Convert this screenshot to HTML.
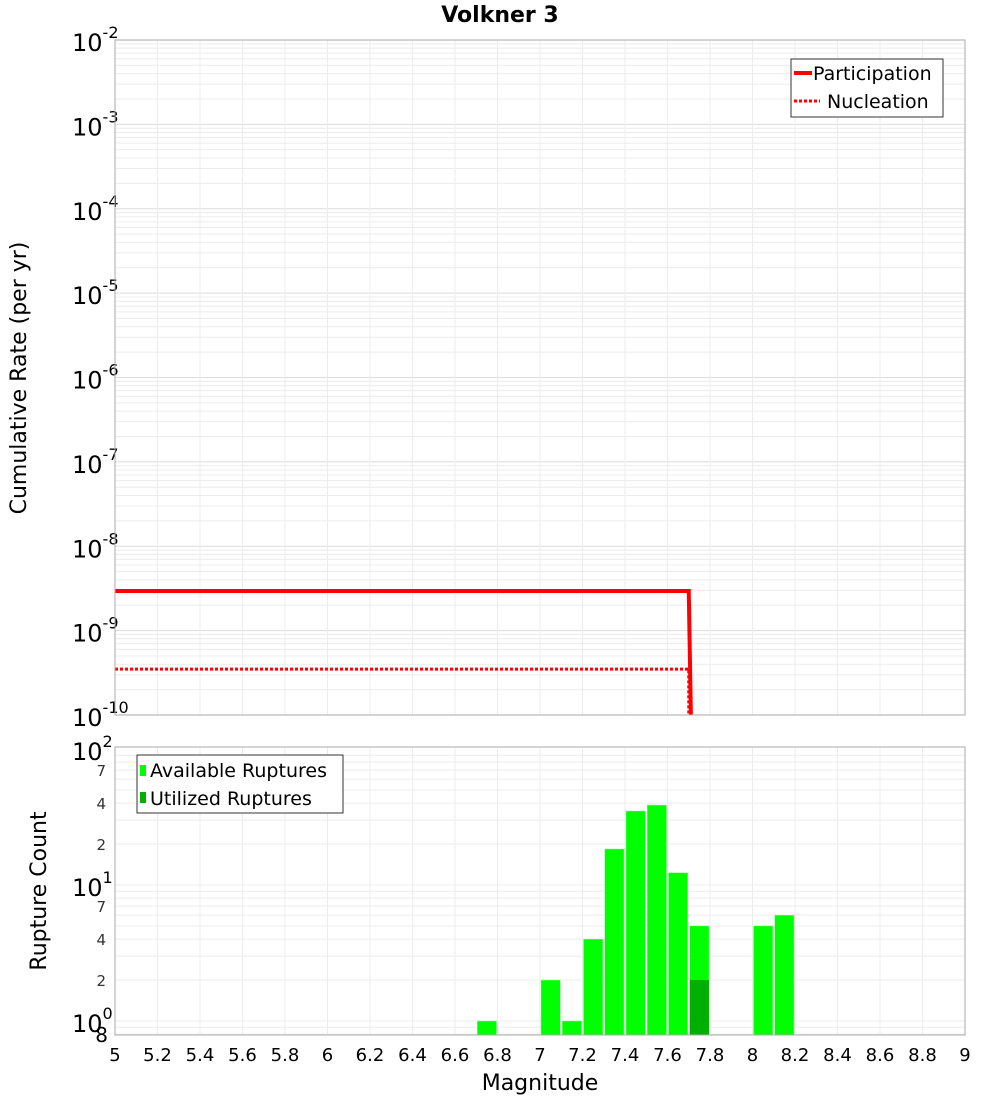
<!DOCTYPE html>
<html><head><meta charset="utf-8"><style>
body{margin:0;background:#fff;font-family:"Liberation Sans","DejaVu Sans",sans-serif}
</style></head><body>
<svg width="1000" height="1100" xmlns="http://www.w3.org/2000/svg" font-family="DejaVu Sans, Liberation Sans, sans-serif">
<text x="500" y="22" text-anchor="middle" font-size="22" font-weight="bold">Volkner 3</text>
<g id="topG"></g>
<g id="botG"></g>
<text transform="translate(26,378) rotate(-90)" text-anchor="middle" font-size="22">Cumulative Rate (per yr)</text>
<text transform="translate(46,891) rotate(-90)" text-anchor="middle" font-size="22">Rupture Count</text>
<text x="540" y="1090" text-anchor="middle" font-size="22">Magnitude</text>
</svg>
<script>
const xTicks=[5,5.2,5.4,5.6,5.8,6,6.2,6.4,6.6,6.8,7,7.2,7.4,7.6,7.8,8,8.2,8.4,8.6,8.8,9];
const rateExps=[-2,-3,-4,-5,-6,-7,-8,-9,-10];
const partMag=[5,7.70,7.71];
const partRate=[2.95e-9,2.95e-9,1e-10];
const nuclMag=[5,7.70,7.70];
const nuclRate=[3.5e-10,3.5e-10,1e-10];
const binMag=[6.75,7.05,7.15,7.25,7.35,7.45,7.55,7.65,7.75,8.05,8.15];
const availCount=[1,2,1,4,18.4,35,38.7,12.3,5,5,6];
const utilMag=[7.75];
const utilCount=[2];
const countMinor=[2,4,7,20,40,70];
const NS="http://www.w3.org/2000/svg";
function mk(p,t,a){const e=document.createElementNS(NS,t);for(const k in a)e.setAttribute(k,a[k]);p.appendChild(e);return e;}
const X0=115,X1=965;
const xs=m=>X0+(m-5)/4*(X1-X0);
const T0=40,T1=715;
const yT=v=>T0+(-2-Math.log10(v))/8*(T1-T0);
const B0=747,B1=1035;
const yB=v=>1021-Math.log10(v)*136;
const topG=document.getElementById('topG'),botG=document.getElementById('botG');
for(let d=-10;d<-2;d++)for(let k=1;k<10;k++){const y=yT(k*Math.pow(10,d));if(y<T0||y>T1)continue;const l=mk(topG,'line',{x1:X0,x2:X1,y1:y,y2:y,stroke:k==1?'#ddd':'#ececec','stroke-width':1});}
for(let d=-1;d<2;d++)for(let k=1;k<10;k++){const y=yB(k*Math.pow(10,d));if(y<B0||y>B1)continue;const l=mk(botG,'line',{x1:X0,x2:X1,y1:y,y2:y,stroke:'#ececec','stroke-width':1});}
xTicks.forEach(m=>{const x=xs(m);
 const a=mk(topG,'line',{x1:x,x2:x,y1:T0,y2:T1,stroke:'#ececec'});
 const b=mk(botG,'line',{x1:x,x2:x,y1:B0,y2:B1,stroke:'#ececec'});
 const t=mk(botG,'text',{x:x,y:1061,'text-anchor':'middle','font-size':18});t.textContent=String(m);});
rateExps.forEach(e=>{const y=yT(Math.pow(10,e));const t=mk(topG,'text',{x:72,y:y+11,'font-size':24});t.textContent='10';const s=mk(t,'tspan',{dy:-13,'font-size':16});s.textContent=String(e);});
function path(ms,vs){return ms.map((m,i)=>(i?'L':'M')+xs(m)+','+yT(vs[i])).join(' ');}
const pl=mk(topG,'path',{d:path(partMag,partRate),fill:'none',stroke:'#f00','stroke-width':4});
const nl=mk(topG,'path',{d:path(nuclMag,nuclRate),fill:'none',stroke:'#f00','stroke-width':3,'stroke-dasharray':'3,2'});
const tf=mk(topG,'rect',{x:X0,y:T0,width:X1-X0,height:T1-T0,fill:'none',stroke:'#aaa'});
const lg=mk(topG,'g',{});
mk(lg,'rect',{x:791,y:59,width:152,height:58,fill:'#fff',stroke:'#333'});
mk(lg,'line',{x1:794,x2:812,y1:73,y2:73,stroke:'#f00','stroke-width':4});
mk(lg,'line',{x1:794,x2:820,y1:101,y2:101,stroke:'#f00','stroke-width':3,'stroke-dasharray':'3,2'});
let t1=mk(lg,'text',{x:813,y:80,'font-size':19});t1.textContent='Participation';
let t2=mk(lg,'text',{x:827,y:108,'font-size':19});t2.textContent='Nucleation';
binMag.forEach((m,i)=>{const r=mk(botG,'rect',{x:xs(m-0.05)+1,y:yB(availCount[i]),width:xs(m+0.05)-xs(m-0.05)-2,height:B1-yB(availCount[i]),fill:'#00ff00',stroke:'#8f8','stroke-width':0.5});});
utilMag.forEach((m,i)=>{const r=mk(botG,'rect',{x:xs(m-0.05)+1,y:yB(utilCount[i]),width:xs(m+0.05)-xs(m-0.05)-2,height:B1-yB(utilCount[i]),fill:'#00b000'});});
const bf=mk(botG,'rect',{x:X0,y:B0,width:X1-X0,height:B1-B0,fill:'none',stroke:'#aaa'});
[0,1,2].forEach(e=>{const y=yB(Math.pow(10,e));const t=mk(botG,'text',{x:72,y:y+11,'font-size':24});t.textContent='10';const s=mk(t,'tspan',{dy:-13,'font-size':16});s.textContent=String(e);});
countMinor.forEach(v=>{const y=yB(v);const t=mk(botG,'text',{x:106,y:y+6,'text-anchor':'end','font-size':15,fill:'#333'});t.textContent=String(v)[0];});
const e8=mk(botG,'text',{x:108,y:1042,'text-anchor':'end','font-size':20});e8.textContent='8';
const lb=mk(botG,'g',{});
mk(lb,'rect',{x:137,y:755,width:206,height:58,fill:'#fff',stroke:'#333'});
mk(lb,'rect',{x:140,y:765,width:6,height:11,fill:'#00ff00'});
mk(lb,'rect',{x:140,y:792,width:6,height:11,fill:'#00b000'});
let t3=mk(lb,'text',{x:150,y:777,'font-size':19});t3.textContent='Available Ruptures';
let t4=mk(lb,'text',{x:150,y:805,'font-size':19});t4.textContent='Utilized Ruptures';
</script>
</body></html>
